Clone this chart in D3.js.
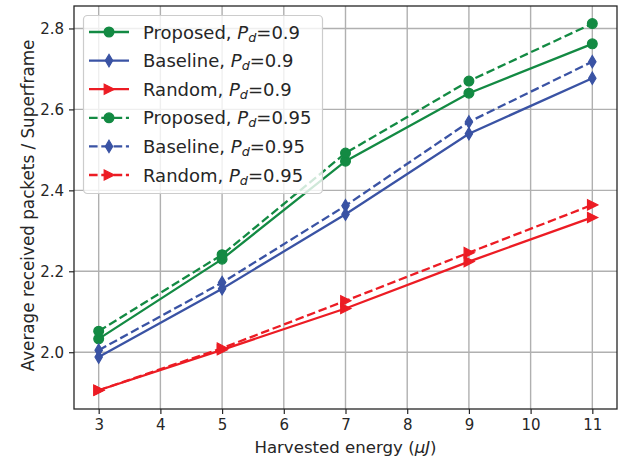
<!DOCTYPE html>
<html>
<head>
<meta charset="utf-8">
<script src="https://cdn.jsdelivr.net/npm/d3@7"></script>
<style>
  html, body { margin: 0; padding: 0; background: #fff; }
  svg { display: block; font-family: "DejaVu Sans", sans-serif; }
</style>
</head>
<body>
<svg id="chart" width="624" height="460"></svg>
<script>
// Harvested energy values (x) and tick labels
const energy = [3, 5, 7, 9, 11];
const xTicks = [3, 4, 5, 6, 7, 8, 9, 10, 11];
const yTicks = [2.0, 2.2, 2.4, 2.6, 2.8];

// Average received packets per superframe
const proposed090 = [2.033, 2.230, 2.472, 2.640, 2.762];
const baseline090 = [1.988, 2.157, 2.341, 2.540, 2.677];
const random090   = [1.906, 2.006, 2.108, 2.224, 2.333];
const proposed095 = [2.052, 2.241, 2.492, 2.670, 2.812];
const baseline095 = [2.005, 2.172, 2.362, 2.569, 2.718];
const random095   = [1.906, 2.010, 2.127, 2.246, 2.364];

const seriesNames = ["Proposed", "Baseline", "Random", "Proposed", "Baseline", "Random"];
const seriesPd = ["0.9", "0.9", "0.9", "0.95", "0.95", "0.95"];
const seriesValues = [proposed090, baseline090, random090, proposed095, baseline095, random095];

const colors = { Proposed: "#138a43", Baseline: "#3a53a4", Random: "#ec1c24" };
const shapes = { Proposed: "circle", Baseline: "diamond", Random: "triangle" };

const svg = d3.select("#chart");
const m = { left: 74, right: 7, top: 6, bottom: 51 };
const W = 624, H = 460;

const x = d3.scaleLinear().domain([2.6, 11.4]).range([m.left, W - m.right]);
const y = d3.scaleLinear().domain([1.8597, 2.8555]).range([H - m.bottom, m.top]);

const ink = "#262626";

// grid
const grid = svg.append("g");
grid.selectAll("line.gx").data(xTicks).join("line")
  .attr("x1", d => x(d)).attr("x2", d => x(d))
  .attr("y1", m.top).attr("y2", H - m.bottom)
  .attr("stroke", "#b0b0b0").attr("stroke-width", 1.4);
grid.selectAll("line.gy").data(yTicks).join("line")
  .attr("y1", d => y(d)).attr("y2", d => y(d))
  .attr("x1", m.left).attr("x2", W - m.right)
  .attr("stroke", "#b0b0b0").attr("stroke-width", 1.4);

// axes
const xAxis = svg.append("g")
  .attr("transform", `translate(0,${H - m.bottom})`)
  .call(d3.axisBottom(x).tickValues(xTicks).tickFormat(d3.format("d")).tickSize(5).tickPadding(5));
const yAxis = svg.append("g")
  .attr("transform", `translate(${m.left},0)`)
  .call(d3.axisLeft(y).tickValues(yTicks).tickFormat(d3.format(".1f")).tickSize(5).tickPadding(5));
[xAxis, yAxis].forEach(a => {
  a.select(".domain").remove();
  a.selectAll(".tick line").attr("stroke", ink).attr("stroke-width", 1.2);
  a.selectAll(".tick text").attr("fill", ink).style("font-size", "15px")
    .style("font-family", "DejaVu Sans, sans-serif");
});

// marker path generator
function markerPath(shape) {
  if (shape === "circle") return d3.symbol().type(d3.symbolCircle).size(Math.PI * 4.9 * 4.9)();
  if (shape === "diamond") return "M0,-6.2L3.7,0L0,6.2L-3.7,0Z";
  return "M5.4,0L-4.8,-5.1L-4.8,5.1Z";
}

const line = d3.line().x((d, i) => x(energy[i])).y(d => y(d));
const plot = svg.append("g");
seriesValues.forEach((vals, k) => {
  const name = seriesNames[k];
  const dashed = seriesPd[k] === "0.95";
  const c = colors[name];
  plot.append("path").datum(vals)
    .attr("d", line).attr("fill", "none").attr("stroke", c)
    .attr("stroke-width", 2.3)
    .attr("stroke-dasharray", dashed ? "8.6,3.7" : null);
  plot.selectAll(null).data(vals).join("path")
    .attr("d", markerPath(shapes[name]))
    .attr("transform", (d, i) => `translate(${x(energy[i])},${y(d)})`)
    .attr("fill", c).attr("stroke", c).attr("stroke-width", 1.2);
});

// frame
svg.append("rect")
  .attr("x", m.left).attr("y", m.top)
  .attr("width", W - m.left - m.right).attr("height", H - m.top - m.bottom)
  .attr("fill", "none").attr("stroke", ink).attr("stroke-width", 1.3);

// axis labels
svg.append("text")
  .attr("x", (m.left + W - m.right) / 2).attr("y", 453)
  .attr("text-anchor", "middle").attr("fill", ink).style("font-size", "16.6px")
  .html('Harvested energy (<tspan font-style="italic">μJ</tspan>)');
svg.append("text")
  .attr("transform", `translate(34,${(m.top + H - m.bottom) / 2 - 2}) rotate(-90)`)
  .attr("text-anchor", "middle").attr("fill", ink).style("font-size", "16.8px")
  .text("Average received packets / Superframe");

// legend
const lg = svg.append("g");
lg.append("rect")
  .attr("x", 83.5).attr("y", 15.5).attr("width", 239).attr("height", 178)
  .attr("rx", 4).attr("fill", "#fff").attr("fill-opacity", 0.8)
  .attr("stroke", "#cccccc").attr("stroke-width", 1.2);
seriesNames.forEach((name, k) => {
  const cy = 32 + k * 28.6;
  const c = colors[name];
  const dashed = seriesPd[k] === "0.95";
  lg.append("line")
    .attr("x1", 89).attr("x2", 129).attr("y1", cy).attr("y2", cy)
    .attr("stroke", c).attr("stroke-width", 2.3)
    .attr("stroke-dasharray", dashed ? "8.6,3.7" : null);
  lg.append("path").attr("d", markerPath(shapes[name]))
    .attr("transform", `translate(109,${cy})`)
    .attr("fill", c).attr("stroke", c).attr("stroke-width", 1.2);
  const t = lg.append("text").attr("x", 143).attr("y", cy + 6.5)
    .attr("fill", ink).style("font-size", "18px");
  t.append("tspan").text(name + ", ");
  t.append("tspan").attr("font-style", "italic").text("P");
  t.append("tspan").attr("font-style", "italic").attr("font-size", "12.8px").attr("dy", 3).text("d");
  t.append("tspan").attr("dy", -3).text("=" + seriesPd[k]);
});
</script>
</body>
</html>
